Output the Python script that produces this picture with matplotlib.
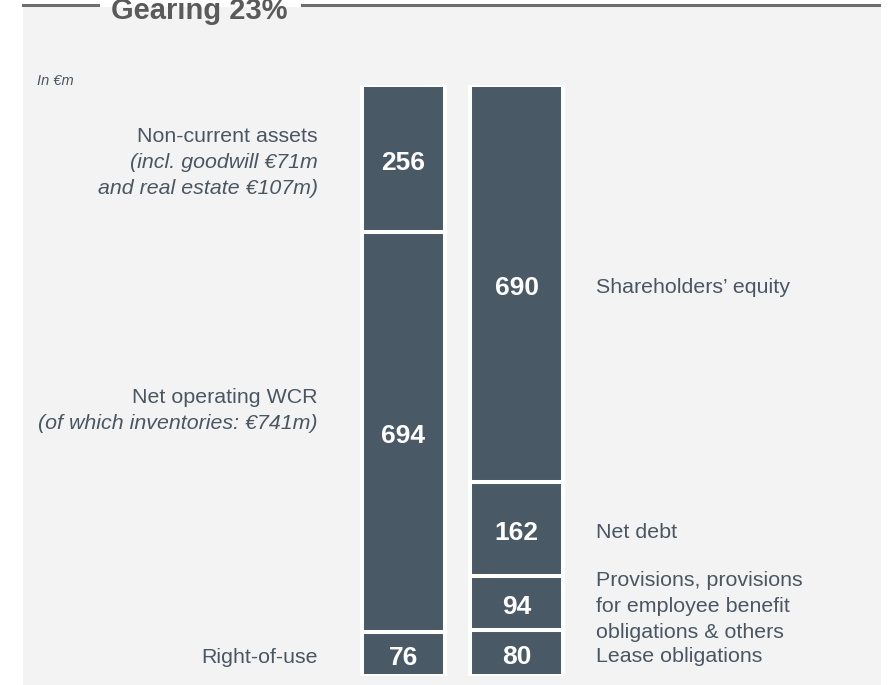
#!/usr/bin/env python3
"""plot: balance sheet split, assets vs. liabilities, as two stacked columns"""

import matplotlib

matplotlib.use("Agg")
import matplotlib.pyplot as plt
from matplotlib.lines import Line2D
from matplotlib.patches import Rectangle

plt.rcParams["font.family"] = ["Liberation Sans", "DejaVu Sans"]

W, H = 892, 685
BAR = "#4a5966"
TXT = "#4a5763"
CAP = 0.716  # cap height of Arial-metric fonts, in em

# left column, bottom to top
asset_value = [76, 694, 256]
asset_label = [
    "Right-of-use",
    "Net operating WCR\n$\\it{(of\\ which\\ inventories:\\ €741m)}$",
    "Non-current assets\n$\\it{(incl.\\ goodwill\\ €71m}$\n$\\it{and\\ real\\ estate\\ €107m)}$",
]
# right column, bottom to top
liab_value = [80, 94, 162, 690]
liab_label = [
    "Lease obligations",
    "Provisions, provisions\nfor employee benefit\nobligations & others",
    "Net debt",
    "Shareholders’ equity",
]
title = "Gearing 23%"
unit = "In €m"


def px(x, y):
    """px: pixel position (top-left origin) to figure fraction"""
    return x / W, 1.0 - y / H


def label_lines(text):
    """label_lines: split a label into (text, italic) rows"""
    rows = []
    for row in text.split("\n"):
        if row.startswith("$"):
            rows.append((row.strip("$").replace("\\it{", "").rstrip("}").replace("\\ ", " "), True))
        else:
            rows.append((row, False))
    return rows


def baseline(ax, y, size):
    """baseline: data y for a baseline that puts the caps centred on y"""
    return y - (CAP * size * 100 / 72 / 2 + 1.5) / ax.px_per_unit


def draw_label(ax, x, y, text, ha, size=15.4):
    """draw_label: multi-row label, some rows italic, centred on y"""
    rows = label_lines(text)
    step = 26.0 / ax.px_per_unit
    top = y + step * (len(rows) - 1) / 2.0
    for i, (row, italic) in enumerate(rows):
        ax.text(
            x, baseline(ax, top - i * step, size), row, ha=ha, va="baseline",
            fontsize=size, color=TXT, style="italic" if italic else "normal",
        )


def main():
    """main: execution block"""
    fig = plt.figure(figsize=(W / 100, H / 100), dpi=100)
    fig.patch.set_facecolor("white")

    # grey panel and header rule
    x0, y0 = px(23, H)
    x1, y1 = px(881, 7)
    fig.patches.append(
        Rectangle((x0, y0), x1 - x0, y1 - y0, transform=fig.transFigure,
                  facecolor="#f3f3f3", edgecolor="none", zorder=-5)
    )
    for a, b in [(23, 98), (302, 879)]:
        fig.lines.append(
            Line2D([px(a, 5)[0], px(b, 5)[0]], [px(a, 5)[1]] * 2,
                   transform=fig.transFigure, color="#6e6e6e", lw=2.2)
        )
    tx, ty = px(199, 19)
    fig.text(tx, ty, title, ha="center", va="baseline", fontsize=21,
             fontweight="bold", color="#5a5a5a")
    ux, uy = px(37, 85)
    fig.text(ux, uy, unit, ha="left", va="baseline", fontsize=10.5,
             style="italic", color=TXT)

    total = sum(asset_value)
    bottom_px, top_px = 676, 85
    ax = fig.add_axes([0, (H - bottom_px) / H, 1, (bottom_px - top_px) / H])
    ax.set_zorder(2)
    ax.set_xlim(0, W)
    ax.set_ylim(0, total)
    ax.axis("off")
    ax.px_per_unit = (bottom_px - top_px) / total

    cols = [(403.5, 83, asset_value), (516.5, 93, liab_value)]
    for xc, wd, values in cols:
        base = 0
        for v in values:
            ax.bar(xc, v, width=wd, bottom=base, color=BAR, edgecolor="white",
                   linewidth=2.9, zorder=2)
            ax.text(xc, baseline(ax, base + v / 2, 19), f"{v}", ha="center",
                    va="baseline", fontsize=19, fontweight="bold",
                    color="white", zorder=3)
            base += v

    # left labels
    base = 0
    for v, lab in zip(asset_value, asset_label):
        y = base + v / 2
        if lab.startswith("Net operating"):
            y += 25 / ax.px_per_unit
        draw_label(ax, 318, y, lab, "right")
        base += v

    # right labels
    base = 0
    for v, lab in zip(liab_value, liab_label):
        draw_label(ax, 596, base + v / 2, lab, "left")
        base += v

    fig.savefig("out.png", dpi=100)
    plt.close(fig)


if __name__ == "__main__":
    main()
